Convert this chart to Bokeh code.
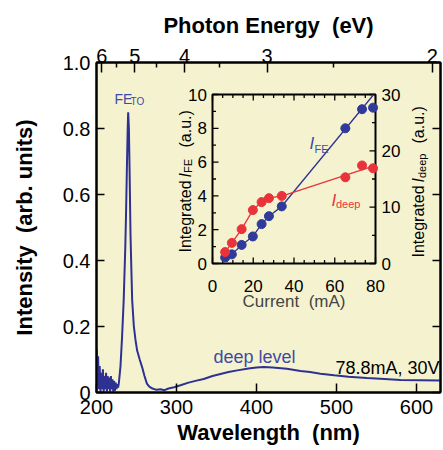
import numpy as np
from bokeh.plotting import figure
from bokeh.models import (Range1d, LinearAxis, FixedTicker, CustomJSTickFormatter, Label)
from bokeh.embed import file_html
from bokeh.resources import INLINE
from bokeh.core.properties import value

# ---------------- data ----------------
wavelength = [200, 200.5, 201, 202, 203, 204, 205, 206, 207, 208, 209, 210, 211, 212, 213, 214,
              215, 216, 217, 218, 219, 220, 221, 222, 223, 224, 225, 226, 227, 228,
              230, 232, 234, 236, 237, 238, 239, 239.6, 240.5, 241.3, 242.5, 243.5, 244.6,
              246.7, 248.7, 250.8, 254, 257, 260, 263, 266, 270, 275, 280, 285, 290,
              297, 305, 315, 325, 334, 345, 355, 365, 376, 390,
              400, 409, 420, 438, 455, 467, 480, 497, 515, 538, 560, 580, 605, 630]
intensity = [0.02, 0.13, 0.03, 0.11, 0.01, 0.08, 0.0, 0.06, 0.01, 0.07,
             0.0, 0.05, 0.01, 0.06, 0.0, 0.05, 0.01, 0.045, 0.0, 0.05,
             0.01, 0.04, 0.0, 0.035, 0.005, 0.03, 0.01, 0.025, 0.015, 0.03,
             0.08, 0.17, 0.28, 0.44, 0.55, 0.68, 0.80, 0.849, 0.80, 0.68, 0.48, 0.38, 0.28,
             0.20, 0.16, 0.127, 0.10, 0.077, 0.05, 0.027, 0.018, 0.012, 0.008, 0.01, 0.007, 0.012,
             0.016, 0.022, 0.03, 0.036, 0.041, 0.05, 0.056, 0.062, 0.067, 0.073,
             0.076, 0.077, 0.076, 0.072, 0.065, 0.062, 0.057, 0.052, 0.048, 0.044,
             0.041, 0.038, 0.037, 0.036]

current = [6.2, 9.5, 14.3, 19.8, 24.1, 27.7, 34.0, 65.2, 73.4, 78.8]
i_fe = [0.35, 0.54, 1.1, 1.6, 2.33, 2.8, 3.38, 8.0, 9.13, 9.22]
i_deep = [2.03, 3.66, 6.1, 9.48, 10.9, 11.6, 12.0, 15.3, 17.4, 16.9]

x_ticks = [200, 300, 400, 500, 600]
y_ticks = [0, 0.2, 0.4, 0.6, 0.8, 1.0]
energy_ticks = [6, 5, 4, 3, 2]
energy_minor = [5.5, 4.5, 3.5, 2.5]
HC = 1239.84  # eV nm

in_x_major = [0, 20, 40, 60, 80]
in_x_minor = [5, 10, 15, 25, 30, 35, 45, 50, 55, 65, 70, 75]
in_yl_major = [0, 2, 4, 6, 8, 10]
in_yl_minor = [1, 3, 5, 7, 9]
in_yr_major = [0, 10, 20, 30]
in_yr_minor = [5, 15, 25]

# ---------------- style / layout ----------------
FONT = "Liberation Sans"
BG = "#f5f3cf"
BLUE = "#2e3192"
BLUE_T = "#3f4aa6"
RED = "#e8333b"
SP2 = "\u00a0 "  # wide gap as in the original titles

XR = (200, 630)
YR = (0, 1.0)
W, H = 443, 450
# frame in canvas pixels
FL, FR, FT, FB = 96, 440, 62, 392
# inset box in canvas pixels
IL, IR, IT, IB = 212, 375, 94, 263
IX = (0, 80)
IYL = (0, 10)
IYR = (0, 30)


def mx(px):
    return XR[0] + (px - FL) * (XR[1] - XR[0]) / (FR - FL)


def my(py):
    return YR[0] + (FB - py) * (YR[1] - YR[0]) / (FB - FT)


def ext_x(a0, a1):
    k = (a1 - a0) / (IR - IL)
    return Range1d(a0 + (FL - IL) * k, a0 + (FR - IL) * k)


def ext_y(a0, a1):
    k = (a1 - a0) / (IT - IB)
    return Range1d(a0 + (FB - IB) * k, a0 + (FT - IB) * k)


p = figure(width=W, height=H, x_range=Range1d(*XR), y_range=Range1d(*YR),
           output_backend="svg", toolbar_location=None,
           min_border_left=FL, min_border_right=W - FR, min_border_top=FT, min_border_bottom=H - FB)
p.background_fill_color = BG
p.border_fill_color = "white"
p.outline_line_color = "black"
p.outline_line_width = 2
p.grid.visible = False

p.extra_x_ranges = {"ix": ext_x(*IX)}
p.extra_y_ranges = {"iy": ext_y(*IYL), "iyr": ext_y(*IYR)}


def style_axis(ax, tick_len=9):
    ax.major_tick_in = tick_len
    ax.major_tick_out = 0
    ax.minor_tick_in = 0
    ax.minor_tick_out = 0
    ax.axis_line_width = 2
    ax.axis_line_color = "black"
    ax.major_tick_line_width = 1.5
    ax.major_tick_line_color = "black"
    ax.major_label_text_font = FONT
    ax.major_label_text_font_size = "20px"
    ax.major_label_text_color = "black"
    ax.axis_label_text_font = FONT
    ax.axis_label_text_font_size = "22px"
    ax.axis_label_text_font_style = "bold"
    ax.axis_label_text_color = "black"


xa = p.xaxis[0]
xa.ticker = FixedTicker(ticks=x_ticks)
xa.axis_label = "Wavelength" + SP2 + "(nm)"
style_axis(xa)
xa.major_label_standoff = 7
xa.axis_label_standoff = 3

ya = p.yaxis[0]
ya.ticker = FixedTicker(ticks=y_ticks)
ya.formatter = CustomJSTickFormatter(code="return tick == 0 ? '0' : tick.toFixed(1);")
ya.axis_label = "Intensity" + SP2 + "(arb. units)"
style_axis(ya, 8)
ya.major_label_standoff = 6
ya.axis_label_standoff = 23

ra = LinearAxis(ticker=FixedTicker(ticks=y_ticks), formatter=CustomJSTickFormatter(code="return '';"))
style_axis(ra, 8)
ra.major_label_standoff = 0
p.add_layout(ra, "right")

ta = LinearAxis(ticker=FixedTicker(ticks=[HC / e for e in energy_ticks],
                                   minor_ticks=[HC / e for e in energy_minor]),
                formatter=CustomJSTickFormatter(
                    args=dict(w=[HC / e for e in energy_ticks], e=energy_ticks),
                    code="const i = w.findIndex(v => Math.abs(v - tick) < 1e-6); return i >= 0 ? String(e[i]) : '';"))
style_axis(ta, 10)
ta.minor_tick_in = 5
ta.minor_tick_line_width = 1.5
ta.minor_tick_line_color = "black"
ta.axis_label = "Photon Energy" + SP2 + "(eV)"
ta.major_label_standoff = 0
ta.axis_label_standoff = 8
p.add_layout(ta, "above")

# ---------------- spectrum ----------------
p.line(wavelength, intensity, line_color=BLUE, line_width=2)

p.add_layout(Label(x=mx(114), y=my(98.3), text="FE", text_font=FONT, text_font_size="14px",
                   text_color=BLUE_T, text_baseline="alphabetic"))
p.add_layout(Label(x=mx(130), y=my(101), text="TO", text_font=FONT, text_font_size="10px",
                   text_color=BLUE_T, text_baseline="alphabetic"))
p.add_layout(Label(x=mx(213), y=my(356), text="deep level", text_font=FONT, text_font_size="18px",
                   text_color=BLUE_T, text_baseline="alphabetic"))
p.add_layout(Label(x=mx(335), y=my(367), text="78.8mA, 30V", text_font=FONT, text_font_size="18px",
                   text_color="black", text_baseline="alphabetic"))

# ---------------- inset ----------------
ppx = (IR - IL) / (IX[1] - IX[0])
ppy = (IB - IT) / (IYL[1] - IYL[0])

p.quad(left=IX[0], right=IX[1], bottom=IYL[0], top=IYL[1], x_range_name="ix", y_range_name="iy",
       fill_color=BG, line_color="black", line_width=2)

MAJ, MIN = 6, 3.5
seg = dict(line_color="black", line_width=1.3, x_range_name="ix")
for ticks, L in ((in_x_major, MAJ), (in_x_minor, MIN)):
    p.segment(x0=ticks, y0=[IYL[0]] * len(ticks), x1=ticks, y1=[IYL[0] + L / ppy] * len(ticks),
              y_range_name="iy", **seg)
    p.segment(x0=ticks, y0=[IYL[1]] * len(ticks), x1=ticks, y1=[IYL[1] - L / ppy] * len(ticks),
              y_range_name="iy", **seg)
for ticks, L in ((in_yl_major, MAJ), (in_yl_minor, MIN)):
    p.segment(x0=[IX[0]] * len(ticks), y0=ticks, x1=[IX[0] + L / ppx] * len(ticks), y1=ticks,
              y_range_name="iy", **seg)
for ticks, L in ((in_yr_major, MAJ), (in_yr_minor, MIN)):
    p.segment(x0=[IX[1]] * len(ticks), y0=ticks, x1=[IX[1] - L / ppx] * len(ticks), y1=ticks,
              y_range_name="iyr", **seg)

lab = dict(text_font=value(FONT), text_font_size="17px", text_color="black", x_range_name="ix")
p.text(x=in_x_major, y=[IYL[0] - 22 / ppy] * len(in_x_major), text=[str(t) for t in in_x_major],
       y_range_name="iy", text_align="center", text_baseline="alphabetic", **lab)
p.text(x=[IX[0] - 5.5 / ppx] * len(in_yl_major), y=in_yl_major, text=[str(t) for t in in_yl_major],
       y_range_name="iy", text_align="right", text_baseline="middle", **lab)
p.text(x=[IX[1] + 6 / ppx] * len(in_yr_major), y=in_yr_major, text=[str(t) for t in in_yr_major],
       y_range_name="iyr", text_align="left", text_baseline="middle", **lab)
p.add_layout(Label(x=(IX[0] + IX[1]) / 2, y=IYL[0] - 38 / ppy, x_range_name="ix", y_range_name="iy",
                   text="Current" + SP2 + "(mA)", text_font=FONT, text_font_size="17px", text_align="center",
                   text_baseline="alphabetic"))

# inset data: blue I_FE (left axis) and red I_deep (right axis)
k = 6
m, b = np.polyfit(current[k:k + 3], i_fe[k:k + 3], 1)
x_end = min(IX[1], (IYL[1] - b) / m)
p.line(current[:k + 1], i_fe[:k + 1], line_color=BLUE, line_width=1.3, x_range_name="ix", y_range_name="iy")
p.line([current[k], x_end], [m * current[k] + b, m * x_end + b], line_color=BLUE, line_width=1.3,
       x_range_name="ix", y_range_name="iy")
m2, b2 = np.polyfit(current[k:], i_deep[k:], 1)
p.line(current[:k + 1], i_deep[:k + 1], line_color=RED, line_width=1.3, x_range_name="ix", y_range_name="iyr")
p.line([current[k], IX[1]], [m2 * current[k] + b2, m2 * IX[1] + b2], line_color=RED, line_width=1.3,
       x_range_name="ix", y_range_name="iyr")
p.scatter(current, i_fe, size=9, fill_color="#2f3a9a", line_color="#2f3a9a", x_range_name="ix", y_range_name="iy")
p.scatter(current, i_deep, size=9, fill_color="#e8333b", line_color="#e8333b", x_range_name="ix", y_range_name="iyr")

# in-plot series labels
p.add_layout(Label(x=mx(309), y=my(143), text="I", text_font=FONT, text_font_size="17px",
                   text_font_style="italic", text_color=BLUE_T, text_baseline="alphabetic"))
p.add_layout(Label(x=mx(314), y=my(148.5), text="FE", text_font=FONT, text_font_size="11px",
                   text_color=BLUE_T, text_baseline="alphabetic"))
p.add_layout(Label(x=mx(331), y=my(200), text="I", text_font=FONT, text_font_size="17px",
                   text_font_style="italic", text_color=RED, text_baseline="alphabetic"))
p.add_layout(Label(x=mx(335.5), y=my(203.5), text="deep", text_font=FONT, text_font_size="11px",
                   text_color=RED, text_baseline="alphabetic"))

# rotated inset axis titles
rot = dict(angle=np.pi / 2, text_font=FONT, text_color="black", text_baseline="alphabetic", text_align="left")
for txt, bx, by, size, style in (("Integrated", 184.5, 252, "16px", "normal"),
                                 ("I", 184.5, 177, "16px", "italic"),
                                 ("FE", 187.5, 172.5, "11px", "normal"),
                                 ("(a.u.)", 184.5, 147, "16px", "normal"),
                                 ("Integrated", 418, 257, "16px", "normal"),
                                 ("I", 418, 182, "16px", "italic"),
                                 ("deep", 421, 177.5, "11px", "normal"),
                                 ("(a.u.)", 418, 143, "16px", "normal")):
    p.add_layout(Label(x=mx(bx), y=my(by), text=txt, text_font_size=size, text_font_style=style, **rot))

open("out.html", "w").write(file_html(p, INLINE))
